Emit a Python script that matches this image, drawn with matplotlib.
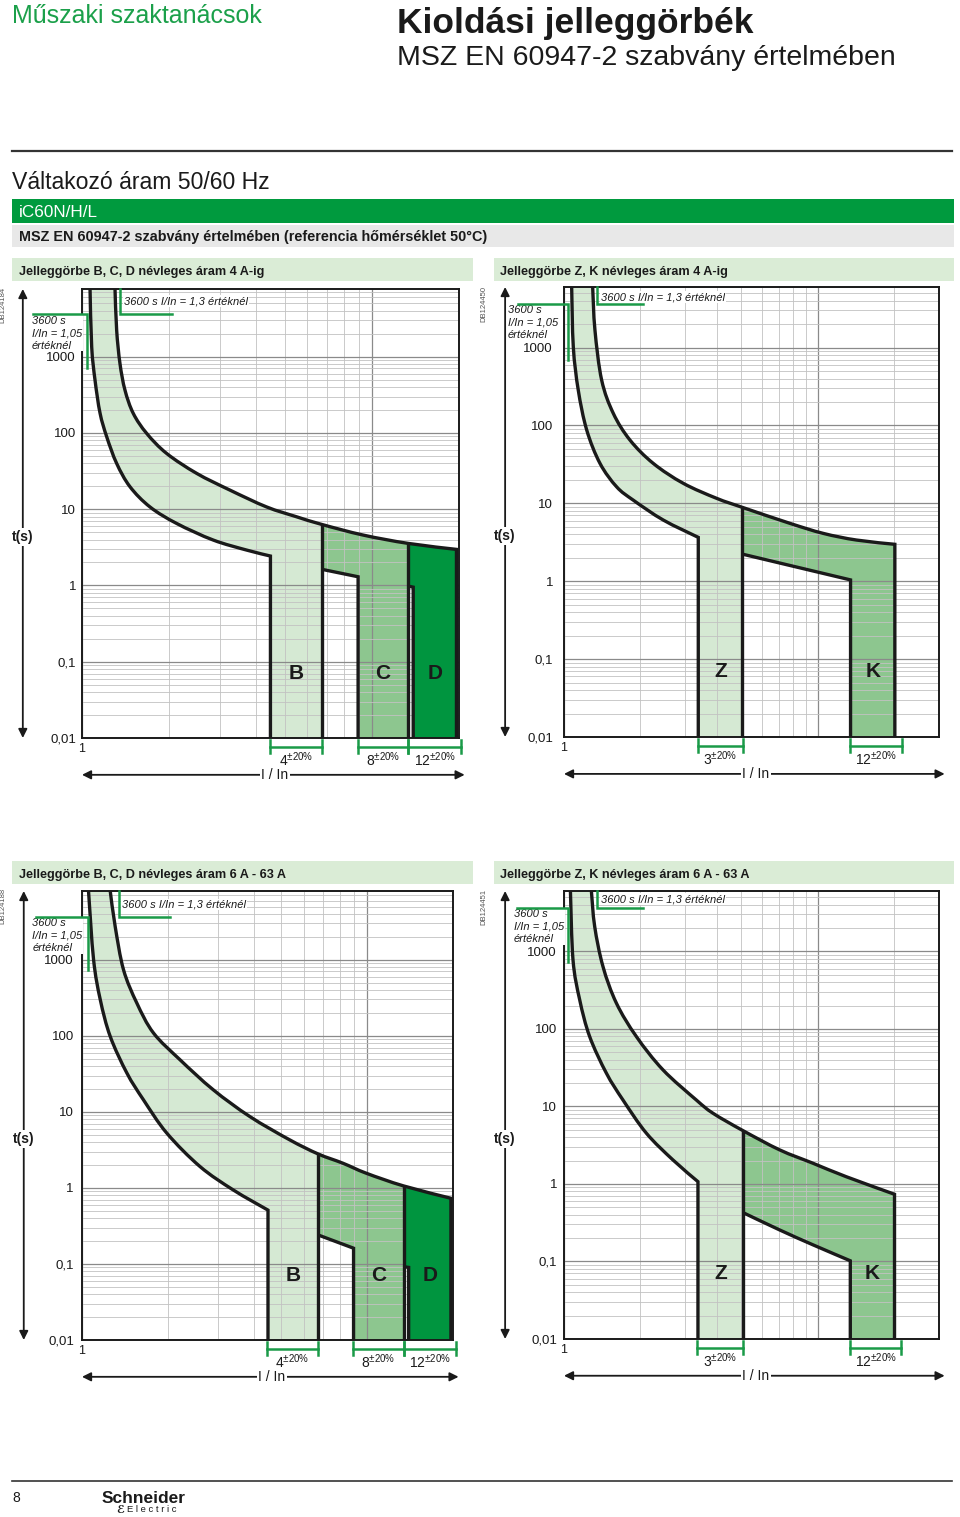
import numpy as np
import matplotlib
matplotlib.use("Agg")
import matplotlib.pyplot as plt
from matplotlib.patches import PathPatch, Rectangle
from matplotlib.path import Path
from matplotlib.ticker import FixedLocator, LogLocator, NullFormatter
from matplotlib.transforms import blended_transform_factory

plt.rcParams['font.family'] = ['Liberation Sans', 'DejaVu Sans']
plt.rcParams['mathtext.fontset'] = 'custom'
plt.rcParams['mathtext.rm'] = 'Liberation Sans'

W, H = 960, 1517

# time axis (s) and current axis (I/In)
t_ticks = [0.01, 0.1, 1, 10, 100, 1000]
t_labels = ['0,01', '0,1', '1', '10', '100', '1000']
x_minor_grid = [2, 3, 4, 5, 6, 7, 8, 9, 20]

# --- B, C, D up to 4 A ---
bcd4_lower_x = [1.066, 1.080, 1.109, 1.154, 1.217, 1.317, 1.464, 1.716, 2.121, 2.836, 3.698, 4.47]
bcd4_lower_y = [7700, 1343, 492, 182, 88.9, 39.8, 19.7, 10.7, 6.5, 3.94, 2.91, 2.43]
bcd4_upper_x = [1.30, 1.317, 1.352, 1.407, 1.503, 1.672, 1.959, 2.486, 3.238, 4.335, 5.50, 6.71, 9.33, 13.35, 19.6]
bcd4_upper_y = [7700, 2224, 815, 364, 180, 98.5, 53.8, 29.5, 17.8, 10.7, 7.95, 6.32, 4.58, 3.56, 2.97]
bcd4_b = [4.47, 6.71]
bcd4_c = [8.97, 13.35]
bcd4_d = [13.9, 19.6]
bcd4_c_low = [1.63, 1.30]
bcd4_d_notch = [0.98, 0.95]
bcd4_brackets = [('4', 4.47, 6.71), ('8', 8.97, 13.35), ('12', 13.35, 20.4)]

# --- Z, K up to 4 A ---
zk4_lower_x = [1.072, 1.088, 1.138, 1.229, 1.386, 1.612, 1.874, 2.46, 3.38]
zk4_lower_y = [6000, 1023, 285, 87.3, 32.6, 16.3, 11.0, 6.11, 3.66]
zk4_upper_x = [1.297, 1.324, 1.407, 1.564, 1.819, 2.247, 2.949, 3.993, 5.04, 7.76, 10.49, 14.2, 20.1]
zk4_upper_y = [6000, 1679, 383, 143, 65, 32.6, 18.1, 11.6, 8.89, 5.54, 4.12, 3.38, 2.98]
zk4_z = [3.38, 5.04]
zk4_k = [13.45, 20.1]
zk4_k_low_x = [5.04, 13.45]
zk4_k_low_y = [2.23, 1.04]
zk4_brackets = [('3', 3.38, 5.05), ('12', 13.4, 21.4)]

# --- B, C, D 6 A - 63 A ---
bcd63_lower_x = [1.054, 1.098, 1.159, 1.256, 1.437, 1.642, 1.983, 2.592, 3.39, 4.49]
bcd63_lower_y = [8000, 1000, 298, 98, 32.3, 14.4, 5.25, 1.91, 0.94, 0.51]
bcd63_upper_x = [1.256, 1.307, 1.398, 1.557, 1.780, 2.207, 2.885, 3.877, 5.35, 6.72, 8.22, 9.92, 13.43, 19.67]
bcd63_upper_y = [8000, 2743, 739, 269, 109, 48.3, 19.5, 8.67, 4.28, 2.80, 2.11, 1.56, 1.06, 0.73]
bcd63_b = [4.49, 6.72]
bcd63_c = [8.96, 13.43]
bcd63_d = [13.98, 19.67]
bcd63_c_low = [0.241, 0.161]
bcd63_d_notch = [0.092, 0.090]
bcd63_brackets = [('4', 4.46, 6.72), ('8', 8.9, 13.43), ('12', 13.43, 20.47)]

# --- Z, K 6 A - 63 A ---
zk63_lower_x = [1.060, 1.085, 1.153, 1.262, 1.469, 1.707, 2.111, 2.686, 3.37]
zk63_lower_y = [6000, 777, 237, 79.6, 26.8, 12.1, 4.51, 2.04, 1.07]
zk63_upper_x = [1.282, 1.321, 1.424, 1.608, 1.928, 2.454, 3.32, 3.86, 5.07, 7.07, 9.56, 12.93, 20.04]
zk63_upper_y = [6000, 2089, 637, 215, 79.6, 29.6, 12.1, 8.17, 4.87, 2.75, 1.85, 1.24, 0.736]
zk63_z = [3.37, 5.07]
zk63_k = [13.42, 20.04]
zk63_k_low_x = [5.07, 7.07, 9.56, 13.42]
zk63_k_low_y = [0.427, 0.255, 0.164, 0.102]
zk63_brackets = [('3', 3.35, 5.07), ('12', 13.4, 21.3)]

LIGHT = '#d5e9d3'
MID = '#8dc68f'
DARK = '#00953f'
GREEN = '#1a9a48'
INK = '#1a1a1a'
T0 = 0.01

fig = plt.figure(figsize=(W / 100, H / 100), dpi=100)


def fx(px):
    return px / W


def fy(py):
    return 1 - py / H


def px_axes(l, t, r, b):
    return fig.add_axes([fx(l), fy(b), (r - l) / W, (b - t) / H])


def ftext(x, y, s, **kw):
    fig.text(fx(x), fy(y), s, **kw)


def frect(l, t, r, b, color):
    fig.patches.append(Rectangle((fx(l), fy(b)), (r - l) / W, (b - t) / H,
                                 transform=fig.transFigure, color=color, lw=0, zorder=0))


def fline(x0, x1, y, lw, color):
    fig.add_artist(plt.Line2D([fx(x0), fx(x1)], [fy(y), fy(y)], lw=lw, color=color))


# smooth drawing of the read curve points (bezier through the points, log space)
def segments(xs, ys):
    P = np.log10(np.c_[xs, ys])
    n = len(P)
    segs = []
    for i in range(n - 1):
        p0, p1, p2, p3 = P[max(i - 1, 0)], P[i], P[i + 1], P[min(i + 2, n - 1)]
        segs.append((p1, p1 + (p2 - p0) / 6, p2 - (p3 - p1) / 6, p2))
    return segs


def rev(segs):
    return [(s[3], s[2], s[1], s[0]) for s in segs[::-1]]


def make_path(pieces):
    verts, codes = [], []
    for p in pieces:
        if isinstance(p, list):
            verts.append(p[0][0])
            codes.append(Path.LINETO)
            for s in p:
                verts += [s[1], s[2], s[3]]
                codes += [Path.CURVE4] * 3
        else:
            verts.append(np.log10(p))
            codes.append(Path.LINETO)
    codes[0] = Path.MOVETO
    return Path(10 ** np.array(verts), codes)


def fill(ax, pieces, color, z=1):
    ax.add_patch(PathPatch(make_path(pieces), facecolor=color, edgecolor='none', zorder=z))


def stroke(ax, pieces):
    ax.add_patch(PathPatch(make_path(pieces), facecolor='none', edgecolor=INK, lw=2.4,
                           joinstyle='miter', capstyle='butt', zorder=3))


def setup_axes(ax, xmax, ymax, pad):
    ax.set_xscale('log')
    ax.set_yscale('log')
    ax.set_xlim(1, xmax)
    ax.set_ylim(T0, ymax)
    ax.xaxis.set_major_locator(FixedLocator([1, 10]))
    ax.xaxis.set_minor_locator(FixedLocator(x_minor_grid))
    ax.xaxis.set_minor_formatter(NullFormatter())
    ax.yaxis.set_major_locator(FixedLocator(t_ticks))
    ax.yaxis.set_minor_locator(LogLocator(base=10, subs=np.arange(2, 10), numticks=20))
    ax.yaxis.set_minor_formatter(NullFormatter())
    ax.set_yticklabels(t_labels)
    ax.tick_params(axis='both', which='both', length=0)
    ax.tick_params(axis='x', labelbottom=False)
    ax.tick_params(axis='y', labelsize=9.5, pad=pad, colors=INK)
    ax.grid(which='major', color='#8a8a8a', lw=0.9)
    ax.grid(which='minor', color='#c2c2c2', lw=0.6)
    for s in ax.spines.values():
        s.set_linewidth(1.4)
        s.set_color(INK)
    trans = blended_transform_factory(ax.transData, ax.transAxes)
    ax.text(1, -0.012, '1', transform=trans, ha='center', va='top', fontsize=9, color=INK)
    # y arrow with t(s)
    ax.annotate('', xy=(-0.157, 1.0), xytext=(-0.157, 0.0), xycoords='axes fraction',
                arrowprops=dict(arrowstyle='<|-|>', color=INK, lw=1.3, mutation_scale=13,
                                shrinkA=0, shrinkB=0), annotation_clip=False)
    ax.text(-0.157, 0.447, 't(s)', transform=ax.transAxes, ha='center', va='center',
            fontsize=10, fontweight='bold', color=INK,
            bbox=dict(facecolor='white', edgecolor='none', pad=1.5))
    # x arrow with I / In
    ax.annotate('', xy=(1.015, -0.082), xytext=(0.0, -0.082), xycoords='axes fraction',
                arrowprops=dict(arrowstyle='<|-|>', color=INK, lw=1.3, mutation_scale=13,
                                shrinkA=0, shrinkB=0), annotation_clip=False)
    ax.text(0.512, -0.083, 'I / In', transform=ax.transAxes, ha='center', va='center',
            fontsize=10, color=INK, bbox=dict(facecolor='white', edgecolor='none', pad=1.0))
    return trans


def outline(ax, xs, ys):
    ax.plot(xs, ys, color=INK, lw=2.4, solid_joinstyle='miter', solid_capstyle='butt', zorder=3)


def brackets(ax, trans, items):
    for lab, x0, x1 in items:
        kw = dict(transform=trans, color=GREEN, lw=1.8, clip_on=False, zorder=4)
        ax.plot([x0, x1], [-0.02, -0.02], **kw)
        ax.plot([x0, x0], [-0.004, -0.034], **kw)
        ax.plot([x1, x1], [-0.004, -0.034], **kw)
        ax.text(np.sqrt(x0 * x1), -0.027, r'$\mathregular{' + lab + r'^{\pm20\%}}$', transform=trans,
                ha='center', va='top', fontsize=10, color=INK)


def notes(ax, ymax, x105, y105_end, x105_left, x13, x13_right, txt_x, txt_y, lab_x, lab_y):
    kw = dict(color=GREEN, lw=1.8, clip_on=False, zorder=5, solid_joinstyle='miter')
    ax.plot([x105_left, x105, x105], [3600, 3600, y105_end], **kw)
    ax.plot([x13, x13, x13_right], [ymax, 3600, 3600], **kw)
    ax.text(txt_x, txt_y, '3600 s I/In = 1,3 értéknél', fontsize=8, style='italic', color=INK,
            ha='left', va='center', zorder=4,
            bbox=dict(facecolor='white', edgecolor='none', pad=0.6))
    ax.text(lab_x, lab_y, '3600 s\nI/In = 1,05\nértéknél', fontsize=8, style='italic', color=INK,
            ha='left', va='center', linespacing=1.3, clip_on=False, zorder=4,
            bbox=dict(facecolor='white', edgecolor='none', pad=0.6))


def letter(ax, x, s):
    ax.text(x, 0.07, s, fontsize=15, fontweight='bold', ha='center', va='center', color=INK, zorder=4)


def draw_bcd(ax, lx, ly, ux, uy, b, c, d, c_low, d_notch):
    ib = ux.index(b[1])
    ic = ux.index(c[1])
    low = segments(lx, ly)
    up = segments(ux, uy)
    fill(ax, [low, (b[0], T0), (b[1], T0), (b[1], uy[ib]), rev(up[:ib])], LIGHT)
    fill(ax, [up[ib:ic], (c[1], T0), (c[0], T0), (c[0], c_low[1]), (b[1], c_low[0])], MID)
    fill(ax, [up[ic:], (d[1], T0), (d[0], T0), (d[0], d_notch[1]), (c[1], d_notch[0])], DARK, 1.7)
    stroke(ax, [low, (b[0], T0)])
    stroke(ax, [up, (d[1], T0)])
    outline(ax, [b[1], b[1]], [uy[ib], T0])
    outline(ax, [b[1], c[0], c[0]], [c_low[0], c_low[1], T0])
    outline(ax, [c[1], c[1]], [uy[ic], T0])
    outline(ax, [c[1], d[0], d[0]], [d_notch[0], d_notch[1], T0])
    letter(ax, np.sqrt(b[0] * b[1]), 'B')
    letter(ax, np.sqrt(c[0] * c[1]), 'C')
    letter(ax, np.sqrt(d[0] * d[1]), 'D')


def draw_zk(ax, lx, ly, ux, uy, z, k, klx, kly):
    iz = ux.index(z[1])
    ik = ux.index(k[1])
    low = segments(lx, ly)
    up = segments(ux, uy)
    kl = segments(klx, kly)
    fill(ax, [low, (z[0], T0), (z[1], T0), (z[1], uy[iz]), rev(up[:iz])], LIGHT)
    fill(ax, [up[iz:ik], (k[1], T0), (k[0], T0), (k[0], kly[-1]), rev(kl)], MID)
    stroke(ax, [low, (z[0], T0)])
    stroke(ax, [up, (k[1], T0)])
    outline(ax, [z[1], z[1]], [uy[iz], T0])
    stroke(ax, [kl, (k[0], T0)])
    letter(ax, np.sqrt(z[0] * z[1]), 'Z')
    letter(ax, np.sqrt(k[0] * k[1]), 'K')


# ---------------- page header ----------------
ftext(12, 23, 'Műszaki szaktanácsok', fontsize=18, color='#1ba04a', va='baseline')
ftext(397, 33, 'Kioldási jelleggörbék', fontsize=25.5, fontweight='bold', color=INK, va='baseline')
ftext(397, 65, 'MSZ EN 60947-2 szabvány értelmében', fontsize=20.5, color=INK, va='baseline')
fline(12, 952, 151, 1.6, '#333333')
ftext(12, 189, 'Váltakozó áram 50/60 Hz', fontsize=16.6, color=INK, va='baseline')
frect(12, 199, 954, 223, '#009a3e')
ftext(19, 217, 'iC60N/H/L', fontsize=12.3, color='white', va='baseline')
frect(12, 225, 954, 247, '#e8e8e8')
ftext(19, 241, 'MSZ EN 60947-2 szabvány értelmében (referencia hőmérséklet 50°C)',
      fontsize=10.4, fontweight='bold', color=INK, va='baseline')

for top, suffix in [(258, '4 A-ig'), (861, '6 A - 63 A')]:
    frect(12, top, 473, top + 23, '#daecd6')
    frect(494, top, 954, top + 23, '#daecd6')
    ftext(19, top + 17, 'Jelleggörbe B, C, D névleges áram ' + suffix,
          fontsize=9.1, fontweight='bold', color=INK, va='baseline')
    ftext(500, top + 17, 'Jelleggörbe Z, K névleges áram ' + suffix,
          fontsize=9.1, fontweight='bold', color=INK, va='baseline')

for x, y, code in [(3, 305, 'DB124184'), (484, 304, 'DB124450'), (3, 906, 'DB124188'), (484, 907, 'DB124451')]:
    ftext(x, y, code, fontsize=5.5, color='#555555', rotation=90, ha='center', va='center')

# ---------------- charts ----------------
ax1 = px_axes(82, 289, 459, 738)
tr1 = setup_axes(ax1, 20, 7700, 4.3)
draw_bcd(ax1, bcd4_lower_x, bcd4_lower_y, bcd4_upper_x, bcd4_upper_y,
         bcd4_b, bcd4_c, bcd4_d, bcd4_c_low, bcd4_d_notch)
brackets(ax1, tr1, bcd4_brackets)
notes(ax1, 7700, 1.04, 707, 0.678, 1.35, 2.04, 1.396, 5330, 0.672, 2030)

ax2 = px_axes(564, 287, 939, 737)
tr2 = setup_axes(ax2, 30, 6000, 7.9)
draw_zk(ax2, zk4_lower_x, zk4_lower_y, zk4_upper_x, zk4_upper_y,
        zk4_z, zk4_k, zk4_k_low_x, zk4_k_low_y)
brackets(ax2, tr2, zk4_brackets)
notes(ax2, 6000, 1.04, 692, 0.659, 1.345, 2.04, 1.398, 4450, 0.602, 2123)

ax3 = px_axes(82, 891, 453, 1340)
tr3 = setup_axes(ax3, 20, 8000, 5.8)
draw_bcd(ax3, bcd63_lower_x, bcd63_lower_y, bcd63_upper_x, bcd63_upper_y,
         bcd63_b, bcd63_c, bcd63_d, bcd63_c_low, bcd63_d_notch)
brackets(ax3, tr3, bcd63_brackets)
notes(ax3, 8000, 1.046, 738, 0.69, 1.343, 2.036, 1.383, 5300, 0.67, 2070)

ax4 = px_axes(564, 891, 939, 1339)
tr4 = setup_axes(ax4, 30, 6000, 5.0)
draw_zk(ax4, zk63_lower_x, zk63_lower_y, zk63_upper_x, zk63_upper_y,
        zk63_z, zk63_k, zk63_k_low_x, zk63_k_low_y)
brackets(ax4, tr4, zk63_brackets)
notes(ax4, 6000, 1.04, 738, 0.652, 1.349, 2.047, 1.40, 4720, 0.634, 2070)

# ---------------- footer ----------------
fline(12, 952, 1481, 1.2, '#333333')
ftext(12, 1502, '8', fontsize=10, color=INK, va='baseline')
ftext(102, 1503, 'Schneider', fontsize=12.5, fontweight='bold', color=INK, va='baseline')
ftext(116, 1513, 'ℰ', fontsize=8, fontweight='bold', style='italic', color=INK, va='baseline')
ftext(127, 1512, 'E l e c t r i c', fontsize=6.8, color=INK, va='baseline')

fig.savefig('out.png', dpi=100)
